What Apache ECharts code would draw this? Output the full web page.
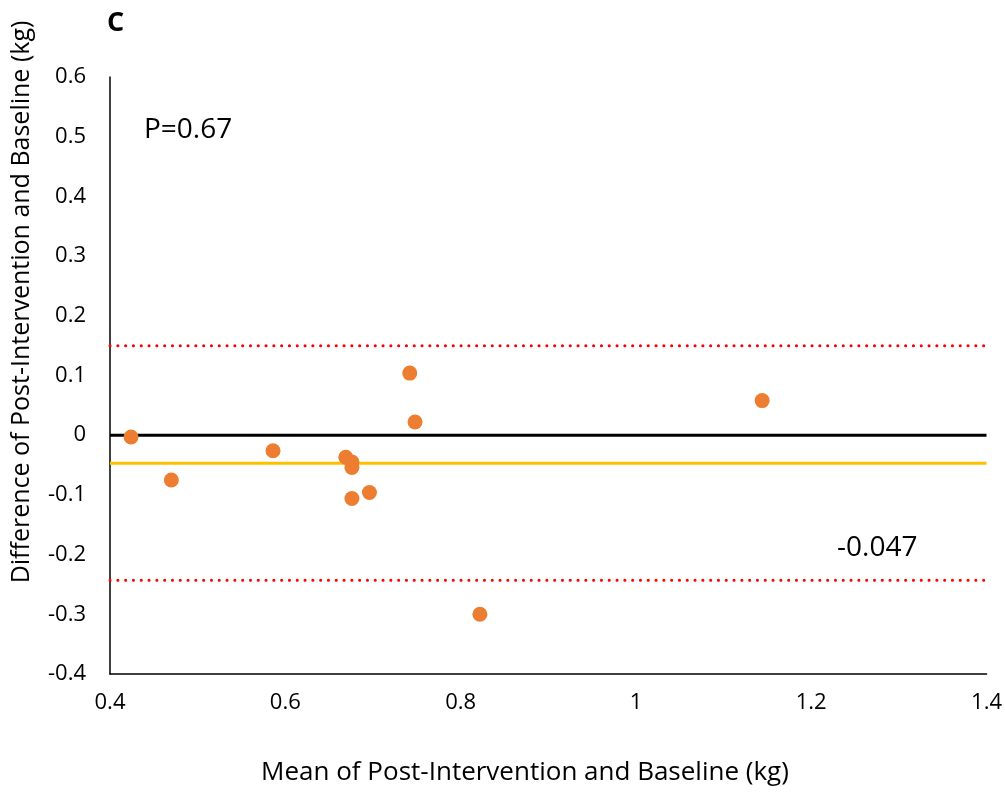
<!DOCTYPE html>
<html>
<head>
<meta charset="utf-8">
<script src="https://cdn.jsdelivr.net/npm/echarts@6/dist/echarts.min.js"></script>
<style>
  html, body { margin: 0; padding: 0; background: #fff; }
  #chart { width: 1005px; height: 792px; }
</style>
</head>
<body>
<div id="chart"></div>
<script>
  // Bland-Altman points: mean vs difference (kg)
  let meanValues = [0.424, 0.470, 0.586, 0.669, 0.676, 0.676, 0.676, 0.696, 0.742, 0.748, 0.822, 1.144]
  let diffValues = [-0.003, -0.075, -0.026, -0.037, -0.045, -0.054, -0.106, -0.096, 0.104, 0.022, -0.300, 0.058]
  let meanDiff = -0.047
  let upperLimit = 0.150
  let lowerLimit = -0.243
  let xRange = [0.4, 1.4]

  let font = 'Open Sans'
  let myChart = echarts.init(document.getElementById('chart'))

  let points = meanValues.map((m, i) => [m, diffValues[i]])
  let hline = (y) => xRange.map(x => [x, y])

  let option = {
    animation: false,
    grid: { left: 110, top: 77, right: 18, bottom: 118 },
    xAxis: {
      type: 'value',
      min: 0.4,
      max: 1.4,
      interval: 0.2,
      axisLine: { onZero: false, lineStyle: { color: '#000', width: 1.5 } },
      axisTick: { show: false },
      splitLine: { show: false },
      axisLabel: { color: '#000', fontSize: 22, fontFamily: font, margin: 18 }
    },
    yAxis: {
      type: 'value',
      min: -0.4,
      max: 0.6,
      interval: 0.1,
      axisLine: { show: true, onZero: false, lineStyle: { color: '#000', width: 1.5 } },
      axisTick: { show: false },
      splitLine: { show: false },
      axisLabel: { color: '#000', fontSize: 22, fontFamily: font, margin: 24 }
    },
    series: [
      {
        type: 'line',
        data: hline(0),
        symbol: 'none',
        lineStyle: { color: '#000', width: 3 },
        z: 1
      },
      {
        type: 'line',
        data: hline(meanDiff),
        symbol: 'none',
        lineStyle: { color: '#FFC000', width: 3 },
        z: 1
      },
      {
        type: 'line',
        data: hline(upperLimit),
        symbol: 'none',
        lineStyle: { color: '#FF0000', width: 3, type: [0.1, 7.7], cap: 'round' },
        z: 1
      },
      {
        type: 'line',
        data: hline(lowerLimit),
        symbol: 'none',
        lineStyle: { color: '#FF0000', width: 3, type: [0.1, 7.7], cap: 'round' },
        z: 1
      },
      {
        type: 'scatter',
        data: points,
        symbol: 'circle',
        symbolSize: 15,
        itemStyle: { color: '#ED7D31', opacity: 1 },
        z: 3
      }
    ],
    graphic: [
      {
        type: 'text',
        x: 107, y: 23,
        style: { text: 'C', font: 'bold 27px ' + font, fill: '#000', verticalAlign: 'middle' }
      },
      {
        type: 'text',
        x: 144, y: 130,
        style: { text: 'P=0.67', font: '28px ' + font, fill: '#000', verticalAlign: 'middle' }
      },
      {
        type: 'text',
        x: 837, y: 548,
        style: { text: '-0.047', font: '28px ' + font, fill: '#000', verticalAlign: 'middle' }
      },
      {
        type: 'text',
        x: 22, y: 302,
        rotation: Math.PI / 2,
        style: {
          text: 'Difference of Post-Intervention and Baseline (kg)',
          font: '25px ' + font, fill: '#000', align: 'center', verticalAlign: 'middle'
        }
      },
      {
        type: 'text',
        x: 525, y: 773,
        style: {
          text: 'Mean of Post-Intervention and Baseline (kg)',
          font: '26px ' + font, fill: '#000', align: 'center', verticalAlign: 'middle'
        }
      }
    ]
  }
  myChart.setOption(option)
</script>
</body>
</html>
